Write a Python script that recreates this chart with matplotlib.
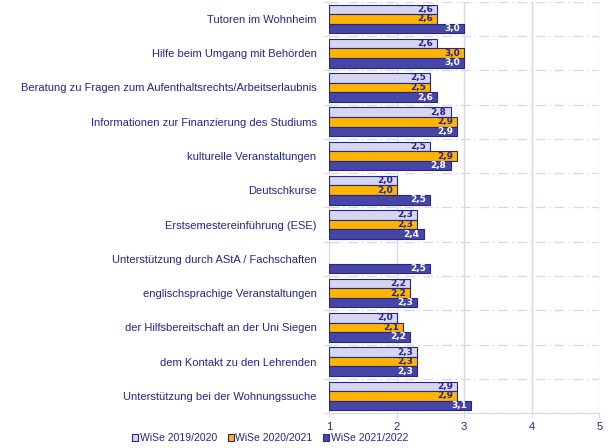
import matplotlib.pyplot as plt
import numpy as np

plt.rcParams['font.family'] = ['Liberation Sans', 'DejaVu Sans']

categories = ['Tutoren im Wohnheim',
              'Hilfe beim Umgang mit Behörden',
              'Beratung zu Fragen zum Aufenthaltsrechts/Arbeitserlaubnis',
              'Informationen zur Finanzierung des Studiums',
              'kulturelle Veranstaltungen',
              'Deutschkurse',
              'Erstsemestereinführung (ESE)',
              'Unterstützung durch AStA / Fachschaften',
              'englischsprachige Veranstaltungen',
              'der Hilfsbereitschaft an der Uni Siegen',
              'dem Kontakt zu den Lehrenden',
              'Unterstützung bei der Wohnungssuche']
wise_1920 = [2.6, 2.6, 2.5, 2.8, 2.5, 2.0, 2.3, np.nan, 2.2, 2.0, 2.3, 2.9]
wise_2021 = [2.6, 3.0, 2.5, 2.9, 2.9, 2.0, 2.3, np.nan, 2.2, 2.1, 2.3, 2.9]
wise_2122 = [3.0, 3.0, 2.6, 2.9, 2.8, 2.5, 2.4, 2.5, 2.3, 2.2, 2.3, 3.1]
series_names = ['WiSe 2019/2020', 'WiSe 2020/2021', 'WiSe 2021/2022']

navy = '#25258a'
grid_col = '#d6d6ee'
fills = ['#d6d6f0', '#ffb400', '#4646a6']
text_cols = [navy, navy, 'white']

fig = plt.figure(figsize=(6.14, 4.48), dpi=100)
ax = fig.add_axes([0.536, 0.078, 0.44, 0.918])

y = np.arange(len(categories))
h = 0.28
for i, vals in enumerate([wise_1920, wise_2021, wise_2122]):
    vals = np.array(vals)
    pos = y + (i - 1) * h
    widths = vals - 1
    ax.barh(pos, widths, left=1, height=h, color=fills[i], edgecolor=navy,
            linewidth=0.8, label=series_names[i], zorder=3)
    # value labels inside the bar end, comma as decimal sign
    for p, v in zip(pos, vals):
        if np.isnan(v):
            continue
        ax.text(v - 0.06, p, f'{v:.1f}'.replace('.', ','), ha='right', va='center',
                fontsize=6.5, fontweight='bold', color=text_cols[i], zorder=4,
                family='DejaVu Sans')

ax.set_xlim(1, 5)
ax.set_ylim(len(categories) - 0.5, -0.5)
ax.set_xticks([1, 2, 3, 4, 5])
ax.tick_params(axis='x', colors=grid_col, labelcolor=navy, labelsize=8, length=3)
ax.set_yticks(np.arange(len(categories) + 1) - 0.5, minor=False)
ax.set_yticklabels([])
ax.set_yticks(y, minor=True)
ax.set_yticklabels(categories, minor=True, color=navy, fontsize=8)
ax.tick_params(axis='y', which='major', colors=grid_col, length=4)
ax.tick_params(axis='y', which='minor', length=0, pad=9)

# dash-dot separators between groups, solid vertical grid
for k in np.arange(len(categories) + 1) - 0.5:
    ax.axhline(k, color=grid_col, linewidth=0.9, linestyle=(0, (8, 3, 1, 3)), zorder=1)
for xv in [2, 3, 4, 5]:
    ax.axvline(xv, color=grid_col, linewidth=1.0, zorder=1)

for s in ['top', 'right']:
    ax.spines[s].set_visible(False)
ax.spines['left'].set_color(grid_col)
ax.spines['bottom'].set_color(grid_col)

fig.legend(loc='lower center', bbox_to_anchor=(0.44, -0.01), ncol=3, frameon=False,
           fontsize=7.5, handlelength=0.6, handleheight=0.6, handletextpad=0.15,
           columnspacing=1.0, labelcolor=navy)

fig.savefig('out.png', dpi=100)
